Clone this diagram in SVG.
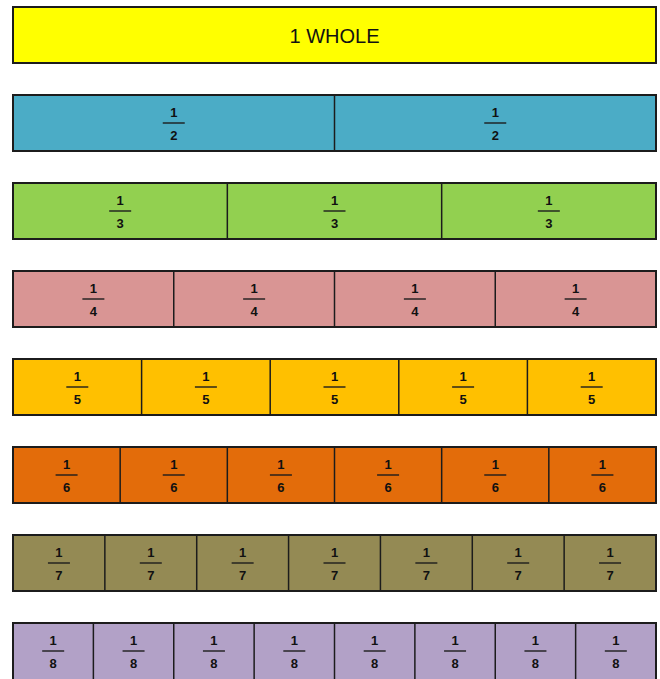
<svg xmlns="http://www.w3.org/2000/svg" width="660" height="679" viewBox="0 0 660 679">
<style>
.bar{stroke:#1c1c1c;stroke-width:2}
.div{stroke:#1c1c1c;stroke-width:1.5}
.fl{stroke:#1c1c1c;stroke-width:1.4}
.ft{font-family:"Liberation Sans",Arial,sans-serif;font-weight:bold;font-size:13px;fill:#111;text-anchor:middle}
.whole{font-family:"Liberation Sans",Arial,sans-serif;font-size:20px;fill:#111;text-anchor:middle}
</style>
<defs>
<g id="f2"><text class="ft" y="-6">1</text><line class="fl" x1="-11" y1="0" x2="11" y2="0"/><text class="ft" y="17">2</text></g>
<g id="f3"><text class="ft" y="-6">1</text><line class="fl" x1="-11" y1="0" x2="11" y2="0"/><text class="ft" y="17">3</text></g>
<g id="f4"><text class="ft" y="-6">1</text><line class="fl" x1="-11" y1="0" x2="11" y2="0"/><text class="ft" y="17">4</text></g>
<g id="f5"><text class="ft" y="-6">1</text><line class="fl" x1="-11" y1="0" x2="11" y2="0"/><text class="ft" y="17">5</text></g>
<g id="f6"><text class="ft" y="-6">1</text><line class="fl" x1="-11" y1="0" x2="11" y2="0"/><text class="ft" y="17">6</text></g>
<g id="f7"><text class="ft" y="-6">1</text><line class="fl" x1="-11" y1="0" x2="11" y2="0"/><text class="ft" y="17">7</text></g>
<g id="f8"><text class="ft" y="-6">1</text><line class="fl" x1="-11" y1="0" x2="11" y2="0"/><text class="ft" y="17">8</text></g>
</defs>
<rect width="660" height="679" fill="#ffffff"/>

<g id="row-whole">
<rect class="bar" x="13" y="7" width="643" height="56" fill="#FFFF00"/>
<text class="whole" x="334.5" y="43">1 WHOLE</text>
</g>

<g id="row-halves">
<rect class="bar" x="13" y="95" width="643" height="56" fill="#4BACC6"/>
<line class="div" x1="334.5" y1="95" x2="334.5" y2="151"/>
<use href="#f2" x="173.75" y="123"/><use href="#f2" x="495.25" y="123"/>
</g>

<g id="row-thirds">
<rect class="bar" x="13" y="183" width="643" height="56" fill="#92D050"/>
<line class="div" x1="227.33" y1="183" x2="227.33" y2="239"/>
<line class="div" x1="441.67" y1="183" x2="441.67" y2="239"/>
<use href="#f3" x="120.17" y="211"/><use href="#f3" x="334.5" y="211"/><use href="#f3" x="548.83" y="211"/>
</g>

<g id="row-quarters">
<rect class="bar" x="13" y="271" width="643" height="56" fill="#D99594"/>
<line class="div" x1="173.75" y1="271" x2="173.75" y2="327"/>
<line class="div" x1="334.5" y1="271" x2="334.5" y2="327"/>
<line class="div" x1="495.25" y1="271" x2="495.25" y2="327"/>
<use href="#f4" x="93.38" y="299"/><use href="#f4" x="254.13" y="299"/><use href="#f4" x="414.88" y="299"/><use href="#f4" x="575.63" y="299"/>
</g>

<g id="row-fifths">
<rect class="bar" x="13" y="359" width="643" height="56" fill="#FFC000"/>
<line class="div" x1="141.6" y1="359" x2="141.6" y2="415"/>
<line class="div" x1="270.2" y1="359" x2="270.2" y2="415"/>
<line class="div" x1="398.8" y1="359" x2="398.8" y2="415"/>
<line class="div" x1="527.4" y1="359" x2="527.4" y2="415"/>
<use href="#f5" x="77.3" y="387"/><use href="#f5" x="205.9" y="387"/><use href="#f5" x="334.5" y="387"/><use href="#f5" x="463.1" y="387"/><use href="#f5" x="591.7" y="387"/>
</g>

<g id="row-sixths">
<rect class="bar" x="13" y="447" width="643" height="56" fill="#E36C0A"/>
<line class="div" x1="120.17" y1="447" x2="120.17" y2="503"/>
<line class="div" x1="227.33" y1="447" x2="227.33" y2="503"/>
<line class="div" x1="334.5" y1="447" x2="334.5" y2="503"/>
<line class="div" x1="441.67" y1="447" x2="441.67" y2="503"/>
<line class="div" x1="548.83" y1="447" x2="548.83" y2="503"/>
<use href="#f6" x="66.58" y="475"/><use href="#f6" x="173.75" y="475"/><use href="#f6" x="280.92" y="475"/><use href="#f6" x="388.08" y="475"/><use href="#f6" x="495.25" y="475"/><use href="#f6" x="602.42" y="475"/>
</g>

<g id="row-sevenths">
<rect class="bar" x="13" y="535" width="643" height="56" fill="#948A54"/>
<line class="div" x1="104.86" y1="535" x2="104.86" y2="591"/>
<line class="div" x1="196.71" y1="535" x2="196.71" y2="591"/>
<line class="div" x1="288.57" y1="535" x2="288.57" y2="591"/>
<line class="div" x1="380.43" y1="535" x2="380.43" y2="591"/>
<line class="div" x1="472.29" y1="535" x2="472.29" y2="591"/>
<line class="div" x1="564.14" y1="535" x2="564.14" y2="591"/>
<use href="#f7" x="58.93" y="563"/><use href="#f7" x="150.79" y="563"/><use href="#f7" x="242.64" y="563"/><use href="#f7" x="334.5" y="563"/><use href="#f7" x="426.36" y="563"/><use href="#f7" x="518.21" y="563"/><use href="#f7" x="610.07" y="563"/>
</g>

<g id="row-eighths">
<rect class="bar" x="13" y="623" width="643" height="60" fill="#B2A1C7"/>
<line class="div" x1="93.38" y1="623" x2="93.38" y2="679"/>
<line class="div" x1="173.75" y1="623" x2="173.75" y2="679"/>
<line class="div" x1="254.13" y1="623" x2="254.13" y2="679"/>
<line class="div" x1="334.5" y1="623" x2="334.5" y2="679"/>
<line class="div" x1="414.88" y1="623" x2="414.88" y2="679"/>
<line class="div" x1="495.25" y1="623" x2="495.25" y2="679"/>
<line class="div" x1="575.63" y1="623" x2="575.63" y2="679"/>
<use href="#f8" x="53.19" y="651"/><use href="#f8" x="133.56" y="651"/><use href="#f8" x="213.94" y="651"/><use href="#f8" x="294.31" y="651"/><use href="#f8" x="374.69" y="651"/><use href="#f8" x="455.06" y="651"/><use href="#f8" x="535.44" y="651"/><use href="#f8" x="615.81" y="651"/>
</g>
</svg>
